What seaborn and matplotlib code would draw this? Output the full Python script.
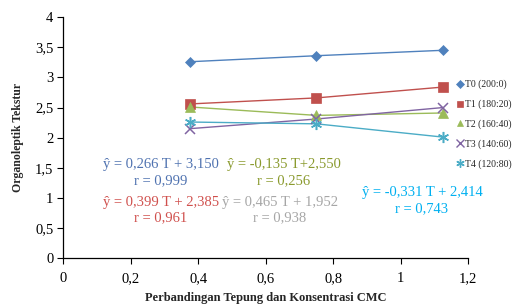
import matplotlib
matplotlib.use("Agg")
import matplotlib.pyplot as plt
import matplotlib.ticker as mticker
from matplotlib.lines import Line2D
import seaborn as sns
import pandas as pd

# ---- data ----
x_vals = [0.375, 0.75, 1.125]
series_names = ["T0 (200:0)", "T1 (180:20)", "T2 (160:40)", "T3 (140:60)", "T4 (120:80)"]
t0 = [3.26, 3.36, 3.45]
t1 = [2.56, 2.66, 2.84]
t2 = [2.51, 2.37, 2.41]
t3 = [2.15, 2.31, 2.50]
t4 = [2.26, 2.23, 2.01]
eq_lines = ["ŷ = 0,266 T + 3,150", "ŷ = -0,135 T+2,550", "ŷ = 0,399 T + 2,385",
            "ŷ = 0,465 T + 1,952", "ŷ = -0,331 T + 2,414"]
r_lines = ["r = 0,999", "r = 0,256", "r = 0,961", "r = 0,938", "r = 0,743"]
x_ticks = [0, 0.2, 0.4, 0.6, 0.8, 1.0, 1.2]
y_ticks = [0, 0.5, 1, 1.5, 2, 2.5, 3, 3.5, 4]

rows = []
for name, vals in zip(series_names, [t0, t1, t2, t3, t4]):
    for xv, yv in zip(x_vals, vals):
        rows.append({"x": xv, "y": yv, "series": name})
df = pd.DataFrame(rows)

colors = ["#4F81BD", "#C0504D", "#9BBB59", "#8064A2", "#4BACC6"]
markers = ["D", "s", "^", "x", (6, 2, 0)]
msizes = [5.5, 7.5, 7, 7.5, 8]
# colours of the equation texts, in eq_lines order
eq_colors = ["#4F72B0", "#8A9A2E", "#D0504D", "#A6A6A6", "#00B0F0"]

sns.set_theme(style="white")
plt.rcParams["font.family"] = ["Liberation Serif", "DejaVu Serif"]

fig = plt.figure(figsize=(5.14, 3.06), dpi=100)
ax = fig.add_axes([0.123, 0.156, 0.788, 0.788])

pal = dict(zip(series_names, colors))
sns.lineplot(data=df, x="x", y="y", hue="series", palette=pal, ax=ax,
             legend=False, linewidth=1.0)
for name, c, m, ms in zip(series_names, colors, markers, msizes):
    sub = df[df["series"] == name]
    mew = 1.1 if m in ("x", (6, 2, 0)) else 0.5
    ax.plot(sub["x"], sub["y"], linestyle="none", marker=m, markersize=ms,
            color=c, markeredgecolor=c, markeredgewidth=mew)

ax.set_xlim(0, 1.2)
ax.set_ylim(0, 4)
ax.set_xticks(x_ticks)
ax.set_yticks(y_ticks)
fmt = mticker.FuncFormatter(lambda v, p: f"{v:g}".replace(".", ","))
ax.xaxis.set_major_formatter(fmt)
ax.yaxis.set_major_formatter(fmt)
ax.tick_params(axis="both", direction="out", length=4, width=0.8, colors="black",
               labelsize=10.5, pad=3)
ax.tick_params(axis="x", pad=6)
ax.tick_params(bottom=True, left=True)
for s in ["top", "right"]:
    ax.spines[s].set_visible(False)
for s in ["left", "bottom"]:
    ax.spines[s].set_color("black")
    ax.spines[s].set_linewidth(0.9)

ax.set_xlabel("Perbandingan Tepung dan Konsentrasi CMC", fontsize=9, fontweight="bold", labelpad=5)
ax.set_ylabel("Organoleptik Tekstur", fontsize=8.5, fontweight="bold", labelpad=8)

# equation annotations (data coords)
pos = [(0.290, 1.55), (0.653, 1.55), (0.290, 0.93), (0.642, 0.93), (1.063, 1.09)]
for (px, py), eq, rr, tc in zip(pos, eq_lines, r_lines, eq_colors):
    ax.text(px, py, eq, color=tc, fontsize=10.5, ha="center", va="center")
    ax.text(px, py - 0.265, rr, color=tc, fontsize=10.5, ha="center", va="center")

handles = [Line2D([], [], linestyle="none", marker=m, color=c, markeredgecolor=c,
                  markersize=6 if m in ("x", (6, 2, 0)) else 4.5,
                  markeredgewidth=1.0 if m in ("x", (6, 2, 0)) else 0.5)
           for c, m in zip(colors, markers)]
fig.legend(handles, series_names, loc="upper left", bbox_to_anchor=(0.878, 0.752),
           frameon=False, fontsize=7, handletextpad=0.05, labelspacing=1.05,
           handlelength=1.0, borderaxespad=0)

fig.savefig("out.png", dpi=100)
